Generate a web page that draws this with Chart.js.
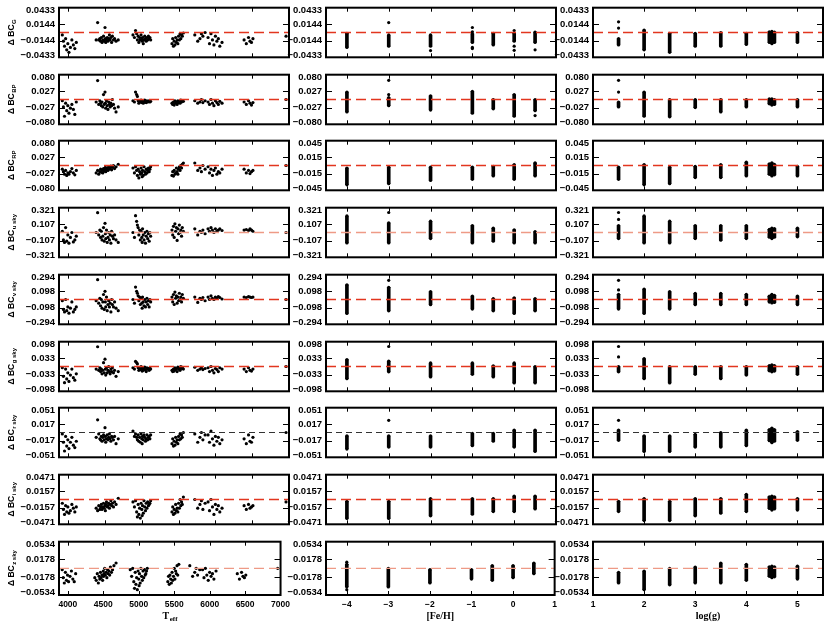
<!DOCTYPE html>
<html>
<head>
<meta charset="utf-8">
<title>Delta BC residuals</title>
<script src="https://cdn.jsdelivr.net/npm/chart.js@4.4.1/dist/chart.umd.min.js"></script>
<style>
  body { margin: 0; background: #fff; }
  #wrap { position: relative; width: 830px; height: 629px; overflow: hidden; background: #fff; }
  #wrap canvas { position: absolute; }
</style>
</head>
<body>
<div id="wrap"></div>
<script>
// ---- data ----
var rowSub = ['G', 'BP', 'RP', 'u sky', 'v sky', 'g sky', 'r sky', 'i sky', 'z sky'];

// y ranges (+/-) and tick labels, Teff column and [Fe/H]/log(g) columns
var yMaxT = [0.0433, 0.080, 0.080, 0.321, 0.294, 0.098, 0.051, 0.0471, 0.0534];
var yMaxP = [0.0433, 0.080, 0.045, 0.321, 0.294, 0.098, 0.051, 0.0471, 0.0534];
var yTopT = ['0.0433', '0.080', '0.080', '0.321', '0.294', '0.098', '0.051', '0.0471', '0.0534'];
var yMidT = ['0.0144', '0.027', '0.027', '0.107', '0.098', '0.033', '0.017', '0.0157', '0.0178'];
var yTopP = ['0.0433', '0.080', '0.045', '0.321', '0.294', '0.098', '0.051', '0.0471', '0.0534'];
var yMidP = ['0.0144', '0.027', '0.015', '0.107', '0.098', '0.033', '0.017', '0.0157', '0.0178'];

var xMin = [3875, -4.5, 1];
var xMax = [7000, 1, 5.5];
var xTicks = [[4000, 4500, 5000, 5500, 6000, 6500, 7000], [-4, -3, -2, -1, 0, 1], [1, 2, 3, 4, 5]];
var xTitle = ['T', '[Fe/H]', 'log(g)'];
var xTitleSub = ['eff', '', ''];

// Teff of the stars in the left column
var teff = [
  3920, 3935, 3950, 3965, 3980, 3995, 4010, 4030, 4050, 4070, 4090, 4110,
  4380, 4400, 4415, 4430, 4440, 4450, 4460, 4470, 4480, 4490, 4500, 4505, 4510, 4520, 4530, 4540, 4550, 4560, 4570, 4580, 4590, 4600, 4615, 4630, 4650, 4680,
  4880, 4900, 4915, 4930, 4940, 4950, 4960, 4970, 4980, 4990, 5000, 5005, 5010, 5020, 5030, 5040, 5050, 5060, 5070, 5080, 5090, 5100, 5110, 5120,
  5410, 5420, 5430, 5440, 5450, 5460, 5470, 5480, 5490, 5500, 5510, 5520, 5530, 5540, 5550, 5565,
  5720, 5760, 5790, 5810, 5830, 5860,
  5900, 5920, 5940, 5960, 5980, 6000, 6020, 6040, 6060, 6090,
  6390, 6420, 6450, 6470, 6490, 6510,
  6960
];

var dG = [
  -0.0043, -0.0152, -0.0238, -0.0108, -0.0303, -0.0195, -0.0346, -0.0260, -0.0130, -0.0217, -0.0281, -0.0173,
  -0.0130, 0.0173, -0.0130, -0.0108, -0.0152, -0.0087, -0.0173, -0.0130, -0.0065, -0.0152, 0.0087, -0.0108, -0.0173, -0.0130, -0.0087, -0.0152, -0.0108, -0.0043, -0.0130, -0.0087, -0.0173, -0.0065, -0.0130, -0.0108, -0.0152, -0.0130,
  -0.0043, -0.0087, 0.0035, -0.0022, -0.0130, -0.0065, -0.0173, -0.0087, -0.0130, -0.0043, -0.0108, -0.0152, -0.0087, -0.0195, -0.0130, -0.0065, -0.0108, -0.0152, -0.0087, -0.0130, -0.0065, -0.0108, -0.0087, -0.0130,
  -0.0195, -0.0108, -0.0238, -0.0152, -0.0217, -0.0087, -0.0173, -0.0130, -0.0195, -0.0065, -0.0130, -0.0022, -0.0108, -0.0043, -0.0065, -0.0009,
  -0.0043, -0.0152, -0.0108, -0.0022, -0.0065, 0.0000,
  -0.0087, -0.0195, -0.0022, -0.0130, -0.0217, -0.0065, -0.0152, -0.0108, -0.0238, -0.0173,
  -0.0130, -0.0195, -0.0087, -0.0152, -0.0173, -0.0108,
  -0.0065
];
var dBP = [
  -0.004, -0.024, -0.054, -0.012, -0.036, -0.020, -0.044, -0.028, -0.016, -0.032, -0.048, -0.008,
  -0.008, 0.061, -0.016, -0.004, -0.012, -0.020, -0.008, -0.024, 0.016, -0.016, 0.024, -0.012, -0.028, -0.004, -0.020, -0.032, -0.008, -0.016, -0.024, -0.012, -0.020, 0.000, -0.016, -0.028, -0.040, -0.024,
  -0.004, -0.008, 0.024, 0.016, 0.010, -0.004, -0.012, -0.006, -0.008, -0.002, -0.010, -0.004, -0.008, -0.012, -0.006, -0.002, -0.008, -0.010, -0.004, -0.008, -0.006, -0.004, -0.008, -0.006,
  -0.012, -0.016, -0.008, -0.018, -0.004, -0.012, -0.008, -0.016, -0.004, -0.010, -0.006, -0.012, -0.002, -0.008, -0.004, -0.006,
  -0.004, -0.012, -0.008, 0.000, -0.010, -0.004,
  -0.008, -0.016, 0.000, -0.012, -0.020, -0.004, -0.010, -0.016, -0.006, -0.012,
  -0.008, -0.016, -0.004, -0.012, -0.018, -0.010,
  0.000
];
var dRP = [
  -0.012, -0.020, -0.028, -0.016, -0.032, -0.024, -0.028, -0.020, -0.010, -0.024, -0.030, -0.016,
  -0.024, -0.016, -0.028, -0.020, -0.012, -0.022, -0.016, -0.024, -0.010, -0.018, -0.012, -0.006, -0.020, -0.014, -0.008, -0.016, -0.004, -0.012, -0.008, -0.002, -0.014, -0.006, 0.000, -0.010, -0.004, 0.004,
  -0.008, -0.024, -0.004, -0.016, -0.032, -0.012, -0.040, -0.020, -0.028, -0.008, -0.024, -0.036, -0.016, -0.032, -0.004, -0.020, -0.028, -0.012, -0.024, -0.016, -0.008, -0.020, -0.012, -0.004,
  -0.032, -0.020, -0.034, -0.016, -0.028, -0.024, -0.008, -0.020, -0.028, -0.012, -0.004, -0.016, 0.000, -0.008, 0.004, 0.008,
  0.008, -0.016, -0.008, -0.020, 0.000, -0.012,
  -0.004, -0.024, -0.012, -0.032, -0.016, -0.008, -0.028, -0.020, -0.024, -0.012,
  -0.012, -0.024, -0.016, -0.026, -0.020, -0.016,
  0.000
];
var du = [
  0.016, -0.096, -0.128, 0.064, -0.112, -0.032, -0.138, -0.064, 0.000, -0.122, -0.096, -0.048,
  0.000, 0.257, -0.032, 0.032, -0.064, 0.016, -0.096, -0.048, 0.064, -0.112, 0.119, -0.016, -0.080, 0.032, -0.128, -0.064, 0.000, -0.096, -0.032, -0.138, 0.016, -0.048, -0.080, -0.032, -0.096, -0.128,
  0.000, -0.064, 0.218, 0.144, 0.096, 0.064, -0.032, 0.032, -0.096, 0.016, -0.064, -0.128, 0.048, -0.032, -0.096, 0.000, -0.138, -0.048, 0.016, -0.080, -0.016, -0.112, 0.000, -0.048,
  0.032, -0.032, 0.080, -0.064, 0.112, 0.016, 0.064, -0.103, 0.048, -0.016, 0.096, 0.000, 0.032, -0.048, 0.064, 0.016,
  0.048, -0.032, 0.016, 0.000, 0.032, -0.016,
  0.048, 0.016, 0.064, 0.032, 0.000, 0.048, 0.016, 0.032, 0.048, 0.026,
  0.032, 0.039, 0.026, 0.048, 0.032, 0.016,
  0.000
];
var dv = [
  -0.015, -0.118, -0.147, 0.000, -0.132, -0.088, -0.162, -0.103, -0.029, -0.147, -0.118, -0.088,
  -0.015, 0.235, -0.044, 0.015, -0.074, 0.000, -0.103, -0.029, 0.059, -0.118, 0.097, -0.029, -0.088, 0.029, -0.132, -0.059, -0.015, -0.088, -0.044, -0.147, 0.000, -0.059, -0.088, -0.029, -0.103, -0.132,
  0.000, -0.044, 0.147, 0.097, 0.074, 0.044, -0.015, 0.029, -0.059, 0.015, -0.044, -0.103, 0.029, -0.029, -0.074, 0.000, -0.088, -0.029, 0.015, -0.059, -0.015, -0.088, 0.000, -0.029,
  0.029, -0.029, 0.059, -0.059, 0.088, 0.015, 0.044, -0.044, 0.029, -0.015, 0.074, 0.000, 0.029, -0.029, 0.059, 0.015,
  0.029, -0.035, 0.015, 0.000, 0.024, -0.015,
  0.029, 0.000, 0.044, 0.015, 0.000, 0.029, 0.015, 0.035, 0.024, 0.006,
  0.029, 0.024, 0.035, 0.029, 0.024, 0.029,
  0.000
];
var dg = [
  -0.005, -0.039, -0.064, -0.010, -0.049, -0.025, -0.059, -0.034, -0.010, -0.044, -0.054, -0.029,
  -0.010, 0.078, -0.015, -0.005, -0.020, -0.010, -0.029, -0.015, 0.015, -0.025, 0.029, -0.010, -0.034, -0.005, -0.025, -0.015, 0.000, -0.020, -0.029, -0.010, -0.020, -0.005, -0.025, -0.015, -0.039, -0.020,
  -0.005, -0.010, 0.020, 0.015, 0.010, -0.005, -0.015, -0.008, -0.012, 0.000, -0.010, -0.018, -0.005, -0.015, -0.010, -0.002, -0.012, -0.020, -0.005, -0.010, -0.008, -0.015, -0.005, -0.010,
  -0.015, -0.020, -0.010, -0.018, -0.005, -0.012, -0.008, -0.020, -0.002, -0.010, -0.005, -0.015, 0.000, -0.008, -0.003, -0.010,
  -0.003, -0.015, -0.010, -0.005, -0.012, -0.008,
  -0.005, -0.020, 0.000, -0.015, -0.025, -0.008, -0.012, -0.020, -0.005, -0.010,
  -0.010, -0.020, -0.005, -0.015, -0.018, -0.010,
  0.000
];
var dr = [
  -0.003, -0.020, -0.038, -0.008, -0.028, -0.015, -0.033, -0.020, -0.010, -0.026, -0.031, -0.018,
  -0.010, 0.026, -0.003, -0.013, -0.015, -0.008, -0.018, -0.010, -0.005, -0.015, 0.010, -0.008, -0.020, -0.013, -0.005, -0.015, -0.010, -0.003, -0.013, -0.018, -0.008, -0.010, -0.015, -0.008, -0.023, -0.013,
  0.003, -0.008, -0.003, -0.010, -0.015, -0.005, -0.018, -0.010, -0.020, -0.003, -0.013, -0.023, -0.008, -0.015, -0.005, -0.010, -0.018, -0.013, -0.005, -0.015, -0.010, -0.008, -0.013, -0.005,
  -0.023, -0.013, -0.028, -0.018, -0.026, -0.010, -0.020, -0.015, -0.023, -0.008, -0.015, -0.003, -0.013, -0.005, -0.010, 0.000,
  -0.003, -0.020, -0.010, 0.000, -0.015, -0.005,
  -0.005, -0.020, 0.003, -0.013, -0.026, -0.008, -0.018, -0.010, -0.023, -0.015,
  -0.013, -0.023, -0.005, -0.018, -0.020, -0.010,
  0.000
];
var di = [
  -0.0071, -0.0188, -0.0283, -0.0118, -0.0236, -0.0141, -0.0259, -0.0212, -0.0094, -0.0165, -0.0236, -0.0141,
  -0.0165, -0.0212, -0.0118, -0.0188, -0.0141, -0.0094, -0.0188, -0.0141, -0.0071, -0.0165, -0.0118, -0.0212, -0.0094, -0.0047, -0.0141, -0.0118, -0.0071, -0.0165, -0.0094, -0.0024, -0.0118, -0.0071, -0.0141, -0.0047, -0.0094, 0.0024,
  -0.0047, -0.0141, -0.0024, -0.0236, -0.0330, -0.0094, -0.0283, -0.0165, -0.0353, -0.0071, -0.0188, -0.0306, -0.0118, -0.0259, -0.0024, -0.0141, -0.0212, -0.0071, -0.0165, -0.0047, -0.0118, -0.0094, -0.0071, -0.0024,
  -0.0236, -0.0141, -0.0283, -0.0188, -0.0259, -0.0094, -0.0212, -0.0165, -0.0236, -0.0071, -0.0165, 0.0000, -0.0118, -0.0047, -0.0094, 0.0047,
  0.0000, -0.0165, -0.0094, -0.0024, -0.0188, -0.0071,
  -0.0047, -0.0212, 0.0000, -0.0141, -0.0283, -0.0094, -0.0188, -0.0118, -0.0236, -0.0165,
  -0.0118, -0.0188, -0.0094, -0.0165, -0.0141, -0.0118,
  -0.0047
];
var dz = [
  -0.0027, -0.0187, -0.0294, -0.0080, -0.0240, -0.0134, -0.0267, -0.0160, -0.0053, -0.0214, -0.0267, -0.0107,
  -0.0187, -0.0240, -0.0107, -0.0294, -0.0160, -0.0214, -0.0080, -0.0187, -0.0134, -0.0240, -0.0053, -0.0160, -0.0107, 0.0000, -0.0134, -0.0080, -0.0187, -0.0027, -0.0107, -0.0053, -0.0134, 0.0027, -0.0080, -0.0027, 0.0053, 0.0107,
  -0.0027, -0.0160, 0.0000, -0.0267, -0.0401, -0.0080, -0.0320, -0.0187, -0.0427, -0.0053, -0.0214, -0.0347, -0.0107, -0.0294, 0.0000, -0.0160, -0.0240, -0.0053, -0.0187, -0.0027, -0.0134, -0.0107, -0.0053, 0.0000,
  -0.0267, -0.0160, -0.0320, -0.0134, -0.0214, -0.0294, -0.0080, -0.0240, -0.0160, 0.0000, -0.0214, -0.0053, -0.0107, 0.0053, -0.0134, 0.0080,
  0.0053, -0.0160, -0.0080, 0.0000, -0.0134, -0.0027,
  -0.0027, -0.0187, 0.0000, -0.0134, -0.0240, -0.0080, -0.0160, -0.0107, -0.0214, -0.0053,
  -0.0107, -0.0214, -0.0080, -0.0160, -0.0187, -0.0134,
  0.0000
];
var dBC = [dG, dBP, dRP, du, dv, dg, dr, di, dz];

// [Fe/H] column: dense runs of points [x, low, high] and isolated points [x, y]
var fehBars = [
  [[-4, -0.0260, -0.0013], [-3, -0.0238, -0.0043], [-2, -0.0238, -0.0043], [-1, -0.0173, -0.0022], [-0.5, -0.0217, -0.0013], [0, -0.0152, -0.0013], [0.5, -0.0173, 0.0009]],
  [[-4, -0.040, 0.024], [-3, -0.020, 0.006], [-2, -0.034, 0.012], [-1, -0.044, 0.026], [-0.5, -0.030, 0], [0, -0.054, 0.016], [0.5, -0.036, 0]],
  [[-4, -0.035, -0.0047], [-3, -0.033, -0.003], [-2, -0.027, -0.003], [-1, -0.025, -0.003], [-0.5, -0.019, -0.0016], [0, -0.025, 0.0016], [0.5, -0.019, 0.0047]],
  [[-4, -0.135, 0.214], [-3, -0.135, 0.124], [-2, -0.079, 0.146], [-1, -0.135, 0.090], [-0.5, -0.113, 0.056], [0, -0.135, 0.034], [0.5, -0.135, 0.011]],
  [[-4, -0.165, 0.175], [-3, -0.134, 0.144], [-2, -0.062, 0.093], [-1, -0.113, 0.041], [-0.5, -0.134, 0.010], [0, -0.165, 0.020], [0.5, -0.134, 0.010]],
  [[-4, -0.048, 0.0275], [-3, -0.021, 0.021], [-2, -0.041, 0.014], [-1, -0.031, 0.014], [-0.5, -0.041, 0.003], [0, -0.065, 0.014], [0.5, -0.065, 0]],
  [[-4, -0.034, -0.007], [-3, -0.030, -0.007], [-2, -0.030, -0.007], [-1, -0.027, -0.002], [-0.5, -0.018, -0.002], [0, -0.030, 0.005], [0.5, -0.039, 0.005]],
  [[-4, -0.036, -0.0033], [-3, -0.036, -0.0033], [-2, -0.031, 0.0017], [-1, -0.028, 0.0017], [-0.5, -0.023, 0.0017], [0, -0.023, 0.0066], [0.5, -0.018, 0.0066]],
  [[-4, -0.037, 0.008], [-3, -0.0374, 0], [-2, -0.0294, -0.0027], [-1, -0.0214, -0.0027], [-0.5, -0.024, 0.0053], [0, -0.0187, 0.0053], [0.5, -0.0107, 0.0107]]
];
var fehDots = [
  [[-3, 0.0173], [-2, -0.0316], [-1, 0.0087], [-1, 0.0013], [-1, -0.0260], [-1, -0.0281], [0, 0.0035], [0, -0.0238], [0, -0.0312], [0.5, -0.0303]],
  [[-3, 0.062], [-3, 0.016], [0.5, -0.052]],
  [],
  [[-3, 0.259]],
  [[-3, 0.227]],
  [[-3, 0.079]],
  [[-3, 0.025]],
  [],
  [[-4, 0.0123], [-4, -0.0427]]
];
// log(g) column
var loggBars = [
  [[1.5, -0.0217, -0.0108], [2, -0.0303, 0.0043], [2.5, -0.0346, -0.0013], [3, -0.0238, -0.0013], [3.5, -0.0238, 0], [4, -0.0208, -0.0013], [4.45, -0.0173, 0.0013], [4.5, -0.0195, 0.0022], [4.55, -0.0173, 0.0009], [5, -0.0173, 0]],
  [[1.5, -0.024, -0.008], [2, -0.054, 0.024], [2.5, -0.056, 0], [3, -0.026, 0], [3.5, -0.040, 0], [4, -0.024, 0], [4.45, -0.014, 0.002], [4.5, -0.018, 0.002], [4.55, -0.016, 0], [5, -0.024, 0]],
  [[1.5, -0.025, -0.003], [2, -0.035, 0.0016], [2.5, -0.033, -0.003], [3, -0.022, -0.0016], [3.5, -0.022, 0.0016], [4, -0.019, 0.006], [4.45, -0.016, 0.003], [4.5, -0.019, 0.0047], [4.55, -0.017, 0.002], [5, -0.019, -0.0016]],
  [[1.5, -0.079, 0.090], [2, -0.135, 0.214], [2.5, -0.135, 0.146], [3, -0.079, 0.090], [3.5, -0.100, 0.090], [4, -0.079, 0.090], [4.45, -0.060, 0.040], [4.5, -0.079, 0.056], [4.55, -0.060, 0.050], [5, -0.056, 0.056]],
  [[1.5, -0.113, 0.062], [2, -0.165, 0.124], [2.5, -0.113, 0.093], [3, -0.062, 0.072], [3.5, -0.062, 0.072], [4, -0.062, 0.062], [4.45, -0.030, 0.040], [4.5, -0.041, 0.062], [4.55, -0.035, 0.050], [5, -0.062, 0.041]],
  [[1.5, -0.021, 0], [2, -0.048, 0.031], [2.5, -0.065, 0], [3, -0.031, 0], [3.5, -0.048, 0], [4, -0.034, 0], [4.45, -0.017, 0.004], [4.5, -0.021, 0.007], [4.55, -0.018, 0.004], [5, -0.031, 0]],
  [[1.5, -0.016, 0.005], [2, -0.039, -0.007], [2.5, -0.039, -0.007], [3, -0.030, -0.004], [3.5, -0.030, 0], [4, -0.027, 0.005], [4.45, -0.017, 0.006], [4.5, -0.021, 0.009], [4.55, -0.018, 0.006], [5, -0.016, 0.002]],
  [[1.5, -0.023, -0.0033], [2, -0.040, 0.0017], [2.5, -0.040, -0.0033], [3, -0.031, 0.0017], [3.5, -0.026, 0.0017], [4, -0.023, 0.010], [4.45, -0.017, 0.005], [4.5, -0.020, 0.0066], [4.55, -0.018, 0.005], [5, -0.020, 0.0017]],
  [[1.5, -0.0294, -0.008], [2, -0.0427, -0.0053], [2.5, -0.0331, 0], [3, -0.0294, 0.0027], [3.5, -0.0294, 0.0107], [4, -0.024, 0.008], [4.45, -0.016, 0.003], [4.5, -0.0187, 0.0043], [4.55, -0.017, 0.003], [5, -0.0214, 0.0043]]
];
var loggDots = [
  [[1.5, 0.0186], [1.5, 0.0078]],
  [[1.5, 0.062], [1.5, 0.024]],
  [],
  [[1.5, 0.259], [1.5, 0.169]],
  [[1.5, 0.227], [1.5, 0.113]],
  [[1.5, 0.079], [1.5, 0.038]],
  [[1.5, 0.025]],
  [],
  []
];

// ---- layout / style ----
var panelLeft = [59, 326, 593];
var panelW = 230;
var rowTop = [4, 71, 137, 204, 271, 338, 404, 471, 538];
var panelH = 57;
var zeroColor = ['#e2361f', '#e2361f', '#e2361f', '#ee9a86', '#e2361f', '#e2361f', '#333333', '#e2361f', '#ee9a86'];

Chart.defaults.font.family = "'Liberation Sans', Arial, sans-serif";
Chart.defaults.color = '#000';

var wrap = document.getElementById('wrap');

function minus(s) { return String(s).replace('-', '\u2212'); }

function subText(ctx, main, sub, mainFont, subFont, dy) {
  ctx.font = mainFont;
  var w1 = ctx.measureText(main).width;
  ctx.font = subFont;
  var w2 = sub ? ctx.measureText(sub).width : 0;
  var x0 = -(w1 + w2) / 2;
  ctx.font = mainFont;
  ctx.fillText(main, x0, 0);
  if (sub) {
    ctx.font = subFont;
    ctx.fillText(sub, x0 + w1 + 0.5, dy);
  }
}

function makePanel(r, c) {
  var axisW = c == 0 ? 59 : 40;
  var last = r == 8;
  var w = axisW + panelW + 6;
  var h = 6 + panelH + (last ? 32 : 6);
  var cv = document.createElement('canvas');
  cv.width = w;
  cv.height = h;
  cv.style.left = (panelLeft[c] - axisW) + 'px';
  cv.style.top = (rowTop[r] - 6) + 'px';
  wrap.appendChild(cv);

  var R = c == 0 ? yMaxT[r] : yMaxP[r];
  var topLab = c == 0 ? yTopT[r] : yTopP[r];
  var midLab = c == 0 ? yMidT[r] : yMidP[r];
  var labs = ['\u2212' + topLab, '\u2212' + midLab, midLab, topLab];
  var xmin = xMin[c], xmax = xMax[c];

  var datasets = [{
    type: 'line',
    data: [{x: xmin, y: 0}, {x: xmax, y: 0}],
    borderColor: zeroColor[r],
    borderWidth: r == 6 ? 1 : 1.4,
    borderDash: r == 6 ? [6, 4] : [10, 5],
    pointRadius: 0
  }];

  if (c == 0) {
    datasets.push({
      type: 'scatter',
      data: teff.map(function (t, i) { return {x: t, y: dBC[r][i]}; }),
      backgroundColor: '#000', borderWidth: 0, pointRadius: 1.6
    });
  } else {
    var bars = c == 1 ? fehBars[r] : loggBars[r];
    var dots = c == 1 ? fehDots[r] : loggDots[r];
    var pts = [];
    bars.forEach(function (b) { pts.push({x: b[0], y: b[1]}); pts.push({x: b[0], y: b[2]}); });
    dots.forEach(function (d) { pts.push({x: d[0], y: d[1]}); });
    datasets.push({
      type: 'scatter', data: pts,
      backgroundColor: '#000', borderWidth: 0, pointRadius: 1.6
    });
    datasets.push({
      type: 'bar',
      data: bars.map(function (b) { return {x: b[0], y: [b[1], b[2]]}; }),
      backgroundColor: '#000', borderWidth: 0, barThickness: 3
    });
  }

  new Chart(cv, {
    type: 'scatter',
    data: {datasets: datasets},
    options: {
      responsive: false,
      animation: false,
      events: [],
      layout: {autoPadding: false, padding: {top: 6, right: 6, bottom: last ? 0 : 6, left: 0}},
      plugins: {legend: {display: false}, tooltip: {enabled: false}},
      scales: {
        x: {
          type: 'linear', min: xmin, max: xmax, offset: false,
          grid: {display: false, drawTicks: false}, border: {display: false},
          ticks: {
            display: last, autoSkip: false, maxRotation: 0, padding: 5,
            font: {size: 8.5, weight: 'bold'},
            callback: function (v) { return minus(v); }
          },
          afterBuildTicks: function (s) { s.ticks = xTicks[c].map(function (v) { return {value: v}; }); },
          afterFit: function (s) { s.height = last ? 32 : 0; }
        },
        y: {
          type: 'linear', min: -R, max: R,
          grid: {display: false, drawTicks: false}, border: {display: false},
          ticks: {
            autoSkip: false, padding: 4,
            font: {size: 9.5, weight: 'bold'},
            callback: function (v, i) { return labs[i]; }
          },
          afterBuildTicks: function (s) {
            s.ticks = [-0.912 * R, -R / 3, R / 3, 0.912 * R].map(function (v) { return {value: v}; });
          },
          afterFit: function (s) { s.width = axisW; }
        }
      }
    },
    plugins: [{
      id: 'frame',
      afterDatasetsDraw: function (chart) {
        var ctx = chart.ctx, a = chart.chartArea, xs = chart.scales.x, ys = chart.scales.y;
        ctx.save();
        ctx.strokeStyle = '#000';
        ctx.lineWidth = 1;
        ctx.beginPath();
        xTicks[c].forEach(function (v) {
          var px = Math.round(xs.getPixelForValue(v)) + 0.5;
          if (px < a.left + 2 || px > a.right - 2) return;
          ctx.moveTo(px, a.top); ctx.lineTo(px, a.top + 4);
          ctx.moveTo(px, a.bottom); ctx.lineTo(px, a.bottom - 4);
        });
        [R / 3, -R / 3].forEach(function (v) {
          var py = Math.round(ys.getPixelForValue(v)) + 0.5;
          ctx.moveTo(a.left, py); ctx.lineTo(a.left + 6, py);
          ctx.moveTo(a.right, py); ctx.lineTo(a.right - 6, py);
        });
        ctx.stroke();
        ctx.lineWidth = 2;
        ctx.strokeRect(a.left, a.top, a.right - a.left, a.bottom - a.top);

        ctx.fillStyle = '#000';
        ctx.textBaseline = 'middle';
        ctx.textAlign = 'left';
        if (c == 0) {
          ctx.save();
          ctx.translate(12, (a.top + a.bottom) / 2);
          ctx.rotate(-Math.PI / 2);
          subText(ctx, '\u0394 BC', rowSub[r], 'bold 8.5px "Liberation Sans"', 'bold 6px "Liberation Sans"', 2.5);
          ctx.restore();
        }
        if (last) {
          ctx.save();
          ctx.translate((a.left + a.right) / 2, a.bottom + 21);
          subText(ctx, xTitle[c], xTitleSub[c], 'bold 10px "Liberation Serif"', 'bold 7px "Liberation Serif"', 3);
          ctx.restore();
        }
        ctx.restore();
      }
    }]
  });
}

for (var r = 0; r < 9; r++) {
  for (var c = 0; c < 3; c++) {
    makePanel(r, c);
  }
}
</script>
</body>
</html>
